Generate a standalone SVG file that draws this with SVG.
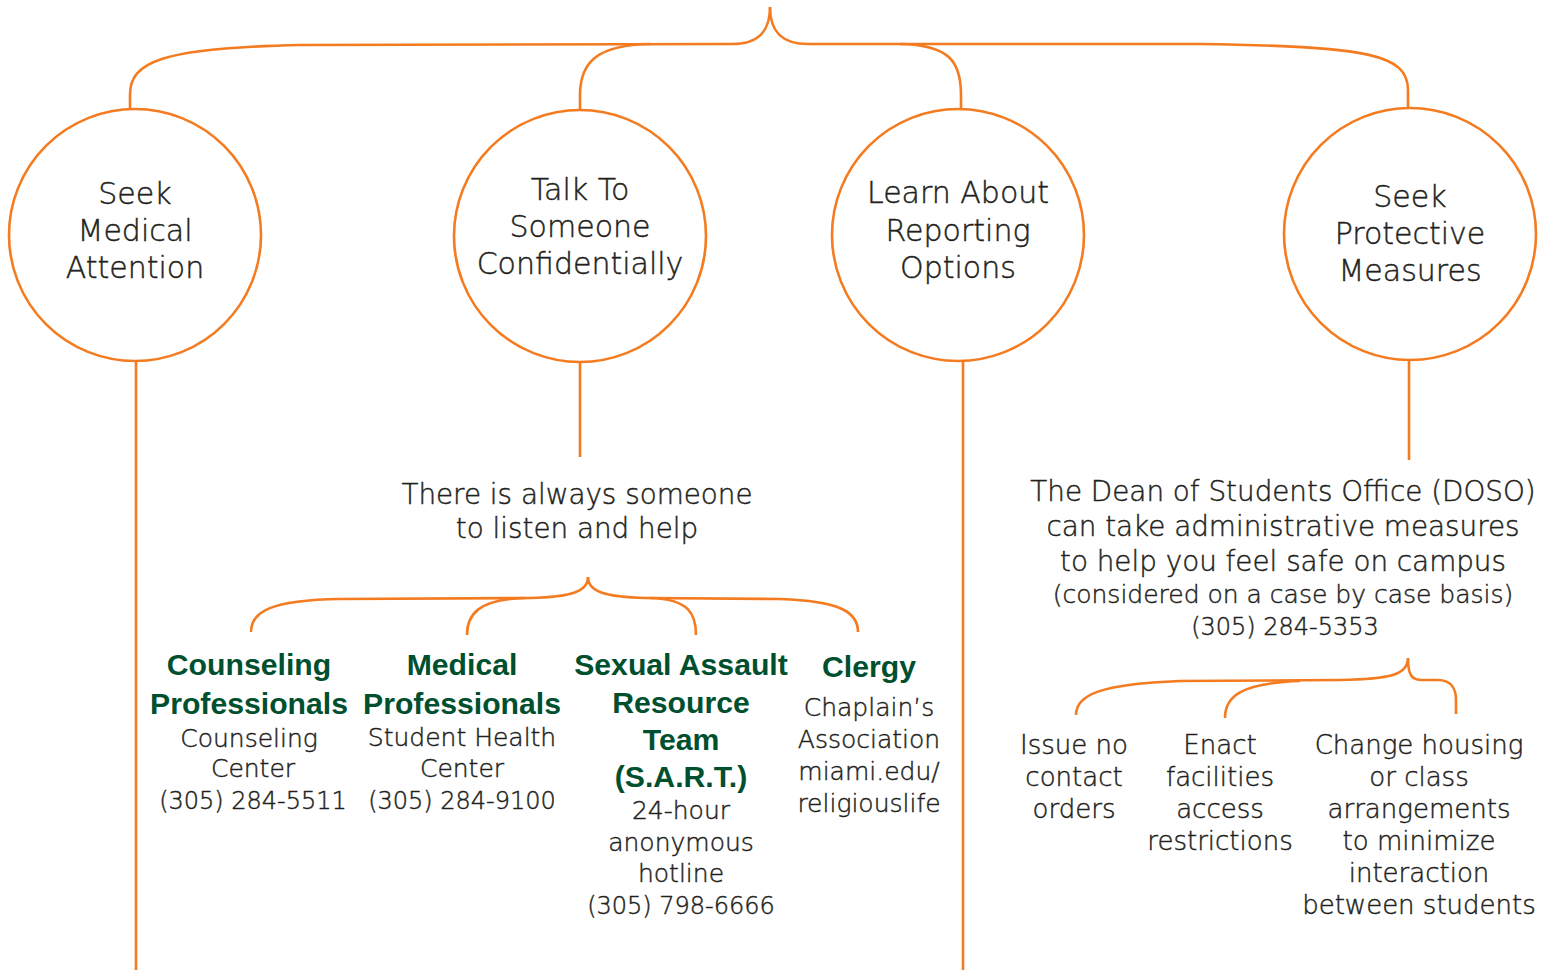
<svg xmlns="http://www.w3.org/2000/svg" width="1553" height="970" viewBox="0 0 1553 970">
<style>
.ln{fill:none;stroke:#F47B20;stroke-width:2.6;stroke-linecap:butt}
.c{fill:#fff;stroke:#F47B20;stroke-width:2.6}
text{font-family:"DejaVu Sans","Liberation Sans",sans-serif;font-weight:200;fill:#231f20;stroke:#231f20;stroke-width:0.45;text-anchor:middle}
.t30{font-size:30px}
.t27{font-size:27.8px}
.t26{font-size:26px}
.t25{font-size:25px}
.ph{font-size:24px}
.g{font-family:"Liberation Sans",Arial,sans-serif;font-weight:bold;font-size:30.2px;fill:#00502F;stroke:none}
</style>
<rect width="1553" height="970" fill="#fff"/>
<g id="connectors">
<path class="ln" d="M770,7 C770,32 758,44 732,44 L300,45 C160,48 130,62 130,95 L130,109"/>
<path class="ln" d="M650,44 C600,45 580,60 580,95 L580,110"/>
<path class="ln" d="M770,7 C770,32 782,44 808,44 L1200,44 C1370,46 1408,55 1408,90 L1408,108"/>
<path class="ln" d="M900,44 C950,45 961,62 961,95 L961,109"/>
<path class="ln" d="M136,362 L136,970"/>
<path class="ln" d="M580,362 L580,457"/>
<path class="ln" d="M963,361 L963,970"/>
<path class="ln" d="M1409,360 L1409,460"/>
<path class="ln" d="M588,577 C588,592 570,597 530,598 L340,599 C270,600 251,612 251,632"/>
<path class="ln" d="M525,598 C478,599 467,615 467,635"/>
<path class="ln" d="M588,577 C588,592 606,597 646,598 L780,599 C840,601 858,612 858,632"/>
<path class="ln" d="M650,598 C690,599 696,615 696,635"/>
<path class="ln" d="M1408,658 C1408,675 1390,679 1340,680 L1180,681 C1100,684 1076,695 1076,715"/>
<path class="ln" d="M1300,681 C1240,683 1225,697 1225,718"/>
<path class="ln" d="M1408,658 C1408,676 1412,680 1422,680 L1438,680 C1452,680 1456,690 1456,700 L1456,714"/>
</g>
<g id="medical">
<circle class="c" cx="135" cy="235" r="126"/>
<text class="t30" x="135" y="204">Seek</text>
<text class="t30" x="135" y="241">Medical</text>
<text class="t30" x="135" y="278">Attention</text>
</g>
<g id="confidential">
<circle class="c" cx="580" cy="236" r="126"/>
<text class="t30" x="580" y="200">Talk To</text>
<text class="t30" x="580" y="237">Someone</text>
<text class="t30" x="580" y="274">Confidentially</text>
</g>
<g id="reporting">
<circle class="c" cx="958" cy="235" r="126"/>
<text class="t30" x="958" y="203">Learn About</text>
<text class="t30" x="958" y="241">Reporting</text>
<text class="t30" x="958" y="278">Options</text>
</g>
<g id="protective">
<circle class="c" cx="1410" cy="234" r="126"/>
<text class="t30" x="1410" y="207">Seek</text>
<text class="t30" x="1410" y="244">Protective</text>
<text class="t30" x="1410" y="281">Measures</text>
</g>
<g id="listen">
<text class="t27" x="577" y="504">There is always someone</text>
<text class="t27" x="577" y="538">to listen and help</text>
</g>
<g id="doso">
<text class="t27" x="1283" y="501">The Dean of Students Office (DOSO)</text>
<text class="t27" x="1283" y="536">can take administrative measures</text>
<text class="t27" x="1283" y="571">to help you feel safe on campus</text>
<text class="t25" x="1283" y="603">(considered on a case by case basis)</text>
<text class="ph" x="1285" y="635">(305) 284-5353</text>
</g>
<g id="counseling">
<text class="g" x="249" y="675">Counseling</text>
<text class="g" x="249" y="714">Professionals</text>
<text class="t25" x="249" y="747">Counseling</text>
<text class="t25" x="253" y="777">Center</text>
<text class="ph" x="253" y="809">(305) 284-5511</text>
</g>
<g id="medicalpro">
<text class="g" x="462" y="675">Medical</text>
<text class="g" x="462" y="714">Professionals</text>
<text class="t25" x="462" y="746">Student Health</text>
<text class="t25" x="462" y="777">Center</text>
<text class="ph" x="462" y="809">(305) 284-9100</text>
</g>
<g id="sart">
<text class="g" x="681" y="675">Sexual Assault</text>
<text class="g" x="681" y="713">Resource</text>
<text class="g" x="681" y="750">Team</text>
<text class="g" x="681" y="787">(S.A.R.T.)</text>
<text class="t25" x="681" y="819">24-hour</text>
<text class="t25" x="681" y="851">anonymous</text>
<text class="t25" x="681" y="882">hotline</text>
<text class="ph" x="681" y="914">(305) 798-6666</text>
</g>
<g id="clergy">
<text class="g" x="869" y="677">Clergy</text>
<text class="t25" x="869" y="716">Chaplain’s</text>
<text class="t25" x="869" y="748">Association</text>
<text class="t25" x="869" y="780">miami.edu/</text>
<text class="t25" x="869" y="812">religiouslife</text>
</g>
<g id="nocontact">
<text class="t26" x="1074" y="754">Issue no</text>
<text class="t26" x="1074" y="786">contact</text>
<text class="t26" x="1074" y="818">orders</text>
</g>
<g id="facilities">
<text class="t26" x="1220" y="754">Enact</text>
<text class="t26" x="1220" y="786">facilities</text>
<text class="t26" x="1220" y="818">access</text>
<text class="t26" x="1220" y="850">restrictions</text>
</g>
<g id="housing">
<text class="t26" x="1419" y="754">Change housing</text>
<text class="t26" x="1419" y="786">or class</text>
<text class="t26" x="1419" y="818">arrangements</text>
<text class="t26" x="1419" y="850">to minimize</text>
<text class="t26" x="1419" y="882">interaction</text>
<text class="t26" x="1419" y="914">between students</text>
</g>
</svg>
